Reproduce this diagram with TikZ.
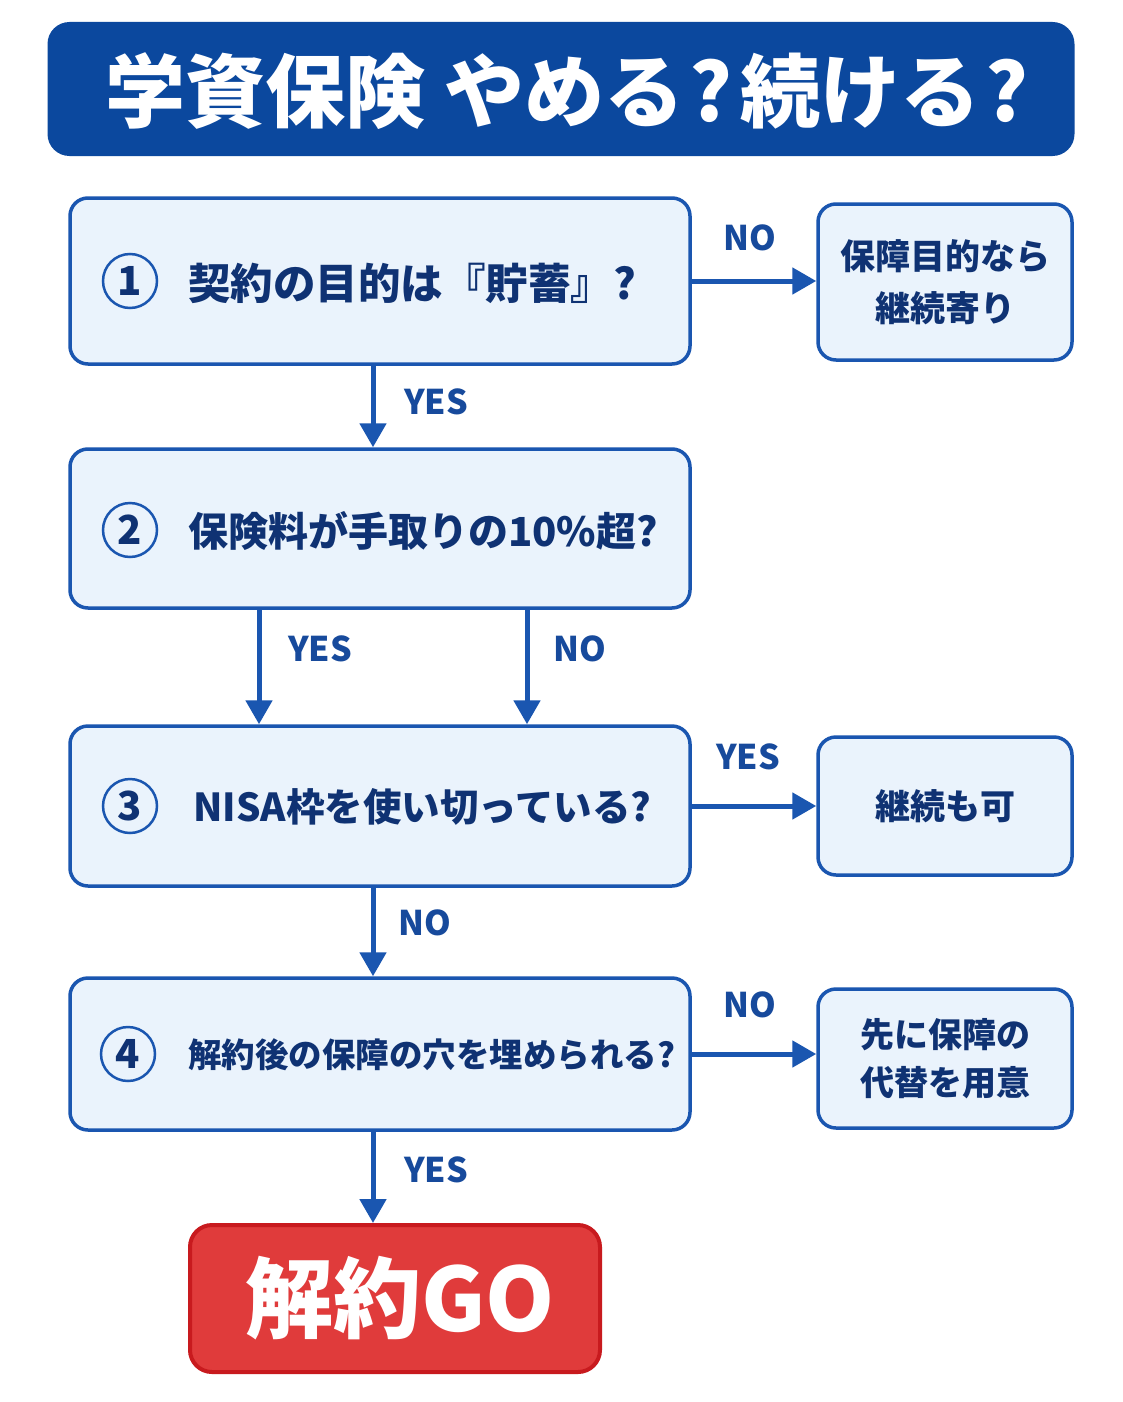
\documentclass[tikz,border=0pt]{standalone}
\usepackage{fontspec}
\setmainfont{Noto Sans CJK JP}
\newfontfamily\heavy{Noto Sans CJK JP Black}
\usetikzlibrary{arrows.meta}
\definecolor{titlebg}{HTML}{0B489E}
\definecolor{boxfill}{HTML}{EAF3FC}
\definecolor{boxline}{HTML}{1A56B0}
\definecolor{navy}{HTML}{0F3273}
\definecolor{lbl}{HTML}{174A9C}
\definecolor{goFill}{HTML}{E03B3B}
\definecolor{goLine}{HTML}{C81A1E}
\tikzset{
  qbox/.style={draw=boxline, fill=boxfill, line width=3.5pt, rounded corners=18pt, inner sep=0pt},
  sidebox/.style={draw=boxline, fill=boxfill, line width=3.5pt, rounded corners=18pt, inner sep=0pt, text=navy, font=\bfseries\fontsize{35}{52}\selectfont, align=center},
  qtext/.style={anchor=west, text=navy, inner sep=0pt},
  numc/.style={circle, draw=boxline, line width=2.5pt, minimum size=54pt, inner sep=0pt, text=navy, font=\bfseries\fontsize{40}{40}\selectfont},
  flow/.style={draw=boxline, line width=5pt, -{Triangle[length=24pt,width=26pt]}},
  lab/.style={text=lbl, font=\bfseries\fontsize{34}{34}\selectfont, inner sep=0pt}
}
\begin{document}
\begin{tikzpicture}[x=1pt,y=-1pt]
\useasboundingbox[fill=white] (0,0) rectangle (1122,1402);
% title
\node[fill=titlebg, rounded corners=22pt, minimum width=1027pt, minimum height=134pt, inner sep=0pt] (title) at (561,89) {};
\node[text=white, font=\heavy\fontsize{80}{80}\selectfont, inner sep=0pt] (ttext) at (567,91) {学資保険 やめる\hspace{5pt}?\hspace{8pt}続ける\hspace{5pt}?};
% question boxes
\node[qbox, minimum width=620pt, minimum height=166pt] (b1) at (380,281) {};
\node[qbox, minimum width=620pt, minimum height=159pt] (b2) at (380,528.5) {};
\node[qbox, minimum width=620pt, minimum height=160pt] (b3) at (380,806) {};
\node[qbox, minimum width=620pt, minimum height=152pt] (b4) at (380,1054) {};
% numbers
\node[numc] (n1) at (130,281) {1};
\node[numc] (n2) at (130,530) {2};
\node[numc] (n3) at (130,806) {3};
\node[numc] (n4) at (128,1054) {4};
% question texts
\node[qtext, font=\bfseries\fontsize{42.5}{42}\selectfont] (t1) at (188,283) {契約の目的は『貯蓄』?};
\node[qtext, font=\bfseries\fontsize{40}{40}\selectfont] (t2) at (188,531) {保険料が手取りの10\%超?};
\node[qtext, font=\bfseries\fontsize{38.5}{38}\selectfont] (t3) at (193,807) {NISA枠を使い切っている?};
\node[qtext, font=\bfseries\fontsize{33.5}{34}\selectfont] (t4) at (188,1055) {解約後の保障の穴を埋められる?};
% side boxes
\node[sidebox, minimum width=254pt, minimum height=156pt] (s1) at (945,282) {保障目的なら\\継続寄り};
\node[sidebox, minimum width=254pt, minimum height=138pt] (s3) at (945,806) {継続も可};
\node[sidebox, minimum width=254pt, minimum height=139pt, font=\bfseries\fontsize{34}{48}\selectfont] (s4) at (945,1058.5) {先に保障の\\代替を用意};
% final
\node[draw=goLine, fill=goFill, line width=4pt, rounded corners=22pt, minimum width=410pt, minimum height=147pt, inner sep=0pt] (go) at (395,1298.5) {};
\node[text=white, font=\heavy\fontsize{88}{88}\selectfont, inner sep=0pt] (gotext) at (400,1298) {解約GO};
% arrows
\coordinate (c1) at (373,0);
\coordinate (c2) at (259,0);
\coordinate (c3) at (527,0);
\draw[flow] (b1.east) -- (s1.west |- b1.east);
\node[lab] (l1) at (750,238) {NO};
\draw[flow] (b1.south -| c1) -- (b2.north -| c1);
\node[lab] (l2) at (436,402) {YES};
\draw[flow] (b2.south -| c2) -- (b3.north -| c2);
\node[lab] (l3) at (320,649) {YES};
\draw[flow] (b2.south -| c3) -- (b3.north -| c3);
\node[lab] (l4) at (580,649) {NO};
\draw[flow] (b3.east) -- (s3.west |- b3.east);
\node[lab] (l5) at (748,757) {YES};
\draw[flow] (b3.south -| c1) -- (b4.north -| c1);
\node[lab] (l6) at (425,923) {NO};
\draw[flow] (b4.east) -- (s4.west |- b4.east);
\node[lab] (l7) at (750,1005) {NO};
\draw[flow] (b4.south -| c1) -- (go.north -| c1);
\node[lab] (l8) at (436,1170) {YES};
\end{tikzpicture}
\end{document}
